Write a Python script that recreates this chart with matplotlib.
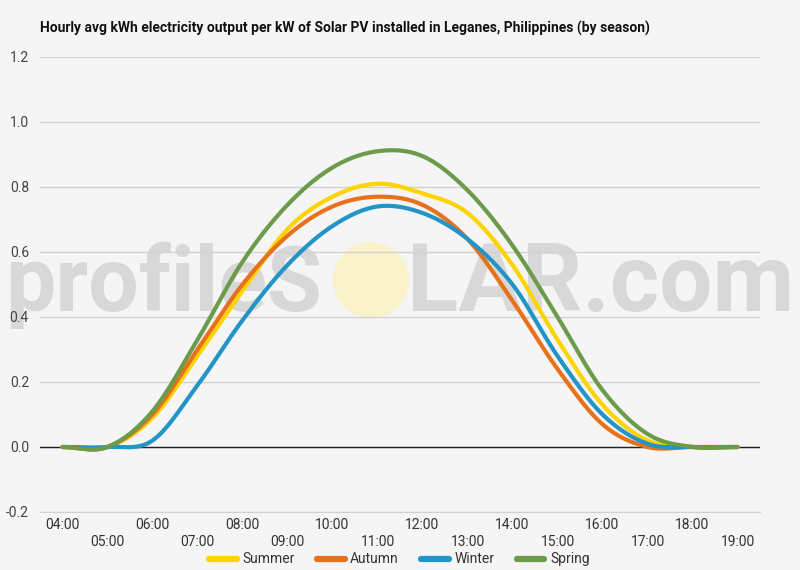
import numpy as np
import matplotlib.pyplot as plt
from matplotlib.patches import Ellipse

# Hourly values
hours = ['04:00', '05:00', '06:00', '07:00', '08:00', '09:00', '10:00', '11:00',
         '12:00', '13:00', '14:00', '15:00', '16:00', '17:00', '18:00', '19:00']
summer = [0, 0, 0.09, 0.28, 0.48, 0.67, 0.77, 0.81, 0.78, 0.72, 0.56, 0.33, 0.13, 0.02, 0, 0]
autumn = [0, 0, 0.10, 0.30, 0.50, 0.65, 0.74, 0.77, 0.745, 0.64, 0.45, 0.24, 0.07, 0, 0, 0]
winter = [0, 0, 0.02, 0.19, 0.39, 0.56, 0.68, 0.74, 0.72, 0.64, 0.50, 0.28, 0.10, 0.01, 0, 0]
spring = [0, 0, 0.11, 0.33, 0.57, 0.745, 0.86, 0.91, 0.895, 0.79, 0.62, 0.40, 0.175, 0.04, 0, 0]

series = [('Summer', summer, '#fdd300'),
          ('Autumn', autumn, '#e8711c'),
          ('Winter', winter, '#2394c7'),
          ('Spring', spring, '#6b9b4b')]

plt.rcParams['font.family'] = ['Roboto', 'DejaVu Sans']


def smooth(y, n=24):
    """Catmull-Rom curve through the hourly points (for drawing only)."""
    y = np.asarray(y, dtype=float)
    p = np.concatenate([[y[0]], y, [y[-1]]])
    xs, ys = [], []
    t = np.linspace(0, 1, n, endpoint=False)
    for i in range(len(y) - 1):
        p0, p1, p2, p3 = p[i], p[i + 1], p[i + 2], p[i + 3]
        m1 = (p2 - p0) / 2
        m2 = (p3 - p1) / 2
        h00 = 2 * t**3 - 3 * t**2 + 1
        h10 = t**3 - 2 * t**2 + t
        h01 = -2 * t**3 + 3 * t**2
        h11 = t**3 - t**2
        xs.append(i + t)
        ys.append(h00 * p1 + h10 * m1 + h01 * p2 + h11 * m2)
    xs.append([len(y) - 1])
    ys.append([y[-1]])
    return np.concatenate(xs), np.concatenate(ys)


fig = plt.figure(figsize=(8, 5.7), dpi=100, facecolor='#f5f5f5')
ax = fig.add_axes([0.05, 0.1018, 0.90, 0.7982])
ax.set_facecolor('none')
ax.set_zorder(1)

# watermark behind the plot, sized to the pixel widths seen in the reference
wm_color = '#d8d8d8'
renderer = fig.canvas.get_renderer()
for word, x0, x1, ha in [('profileS', 5, 322, 'right'), ('LAR.com', 407, 794, 'left')]:
    xpos = x1 if ha == 'right' else x0
    t = fig.text(xpos / 800, 1 - 311 / 570, word, fontsize=70, fontweight='bold',
                 color=wm_color, ha=ha, va='baseline', zorder=0)
    w = t.get_window_extent(renderer).width
    t.set_fontsize(70 * (x1 - x0) / w)
fig.patches.append(Ellipse((371 / 800, 1 - 280 / 570), 76 / 800, 76 / 570,
                           transform=fig.transFigure, facecolor='#faf2c6',
                           edgecolor='none', alpha=0.9, zorder=0))

x = np.arange(len(hours))
for name, vals, col in series:
    sx, sy = smooth(vals)
    ax.plot(sx, sy, color=col, lw=3.0, label=name, solid_capstyle='round', zorder=3)

ax.set_xlim(-0.5, len(hours) - 0.5)
ax.set_ylim(-0.2, 1.2)
ax.set_yticks(np.arange(-0.2, 1.21, 0.2))
ax.set_yticklabels([f'{v:.1f}' for v in np.arange(-0.2, 1.21, 0.2)])
ax.grid(axis='y', color='#d2d2d2', lw=1)
ax.axhline(0, color='#222222', lw=1, zorder=2)

ax.set_xticks(x[::2])
ax.set_xticklabels(hours[::2])
ax.set_xticks(x[1::2], minor=True)
ax.set_xticklabels(hours[1::2], minor=True)
ax.tick_params(axis='x', which='major', length=0, pad=4, labelsize=10, labelcolor='#333333')
ax.tick_params(axis='x', which='minor', length=0, pad=16.5, labelsize=10, labelcolor='#333333')
ax.tick_params(axis='y', length=0, pad=8, labelsize=10, labelcolor='#444444')

for s in ['top', 'right', 'left']:
    ax.spines[s].set_visible(False)
ax.spines['bottom'].set_color('#d2d2d2')

fig.text(40 / 800, 1 - 28 / 570, 'Hourly avg kWh electricity output per kW of Solar PV installed in Leganes, Philippines (by season)',
         fontsize=10, fontweight='bold', color='#111111', va='center', ha='left')

fig.legend(loc='center', bbox_to_anchor=(0.499, 1 - 559 / 570), ncol=4, frameon=False,
           fontsize=10, handlelength=2.0, handleheight=0.5, columnspacing=1.6,
           handletextpad=0.4, labelcolor='#333333')
for lh in fig.legends[0].get_lines():
    lh.set_linewidth(4.5)

fig.savefig('out.png', dpi=100, facecolor=fig.get_facecolor())
